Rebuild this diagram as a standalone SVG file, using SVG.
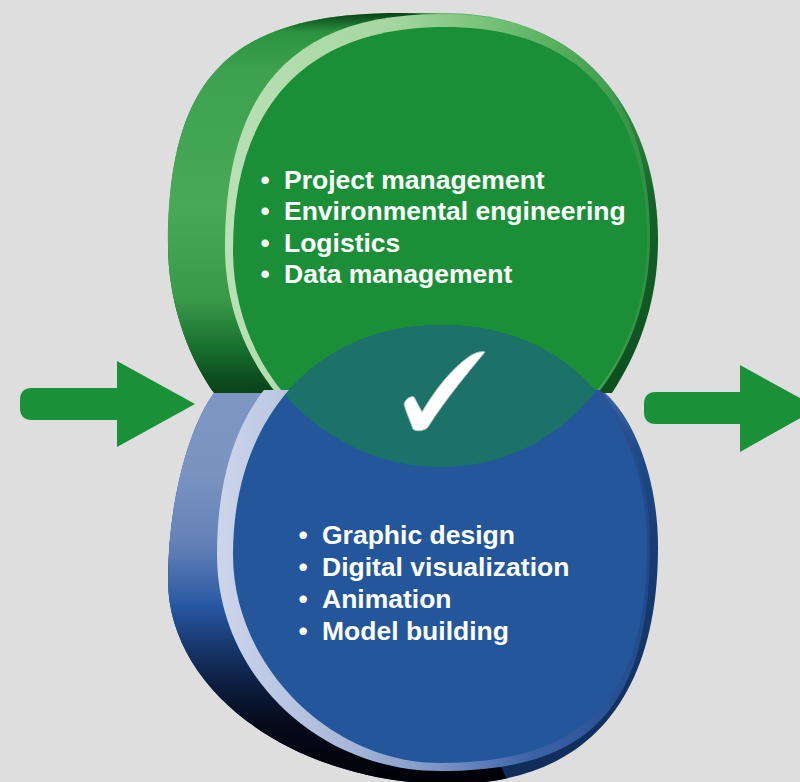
<svg xmlns="http://www.w3.org/2000/svg" width="800" height="782" viewBox="0 0 800 782">
<defs>
<style>
.lbl{font-family:"Liberation Sans",Arial,Helvetica,sans-serif;font-weight:bold;font-size:26.5px;fill:#ffffff}
.arrow{fill:#1a9038}
.gface{fill:#1a8f37}
.bface{fill:#23569b}
</style>
<linearGradient id="gRim" x1="0" y1="13" x2="0" y2="393" gradientUnits="userSpaceOnUse">
<stop offset="0" stop-color="#63ba68"/><stop offset="0.25" stop-color="#2f8c40"/><stop offset="0.5" stop-color="#146229"/><stop offset="1" stop-color="#0d4f20"/>
</linearGradient>
<linearGradient id="gBand" x1="0" y1="13" x2="0" y2="393" gradientUnits="userSpaceOnUse">
<stop offset="0" stop-color="#0b3f17"/><stop offset="0.05" stop-color="#2a9340"/><stop offset="0.15" stop-color="#3da14f"/><stop offset="0.5" stop-color="#48a957"/><stop offset="0.75" stop-color="#3a9a4a"/><stop offset="0.87" stop-color="#1b7430"/><stop offset="0.95" stop-color="#0e5222"/><stop offset="1" stop-color="#0a4218"/>
</linearGradient>
<linearGradient id="gStripe" x1="225" y1="0" x2="650" y2="0" gradientUnits="userSpaceOnUse">
<stop offset="0" stop-color="#bae0b5"/><stop offset="0.4" stop-color="#a4d6a0"/><stop offset="0.55" stop-color="#86c884"/><stop offset="0.75" stop-color="#5cb364"/><stop offset="1" stop-color="#2f8f42"/>
</linearGradient>
<linearGradient id="bRim" x1="0" y1="393" x2="0" y2="784" gradientUnits="userSpaceOnUse">
<stop offset="0" stop-color="#3a62a5"/><stop offset="0.15" stop-color="#1f4a88"/><stop offset="0.4" stop-color="#183c72"/><stop offset="1" stop-color="#102c58"/>
</linearGradient>
<linearGradient id="bBand" x1="0" y1="393" x2="0" y2="784" gradientUnits="userSpaceOnUse">
<stop offset="0" stop-color="#7e96c2"/><stop offset="0.2" stop-color="#7a93c1"/><stop offset="0.38" stop-color="#6582b8"/><stop offset="0.5" stop-color="#3a64a8"/><stop offset="0.55" stop-color="#2655a0"/><stop offset="0.65" stop-color="#17376c"/><stop offset="0.75" stop-color="#0c1d3e"/><stop offset="0.85" stop-color="#050a1a"/><stop offset="1" stop-color="#000005"/>
</linearGradient>
<linearGradient id="bStripe" x1="217" y1="0" x2="650" y2="0" gradientUnits="userSpaceOnUse">
<stop offset="0" stop-color="#cdd5ea"/><stop offset="0.3" stop-color="#a9b8da"/><stop offset="0.5" stop-color="#7f97c8"/><stop offset="0.72" stop-color="#3d64a8"/><stop offset="1" stop-color="#1f4a8a"/>
</linearGradient>
<clipPath id="clipBelow"><rect x="0" y="390" width="800" height="400"/></clipPath>
<clipPath id="clipBlueFace"><path d="M 442,325 C 565,325 647,413 647,545 C 647,698 585,763 440,763 C 330,763 233,665 233,555 C 233,417 317,325 442,325 Z"/></clipPath>
</defs>
<rect x="0" y="0" width="800" height="782" fill="#dedede"/>
<g id="connectors">
<path id="arrow-in" class="arrow" d="M 32,388 L 117,388 L 117,361 L 195,404 L 117,447 L 117,420 L 32,420 Q 20,420 20,408 L 20,400 Q 20,388 32,388 Z"/>
<path id="arrow-out" class="arrow" d="M 656,392 L 740,392 L 740,365 L 818,408 L 740,452 L 740,424 L 656,424 Q 644,424 644,412 L 644,404 Q 644,392 656,392 Z"/>
</g>
<g id="node-green">
<path fill="url(#gRim)" d="M 214,393 C 190,360 168,305 168,245 C 168,76 231,13 400,13 L 445,13 C 580,13 658,110 658,240 C 658,300 640,350 612,393 Z"/>
<path fill="url(#gBand)" d="M 214,393 C 190,360 168,305 168,245 C 168,76 231,13 400,13 L 440,14 L 300,200 L 290,393 Z"/>
<path fill="url(#gStripe)" d="M 440,14 C 576,14 650,92 650,238 C 650,368 558,471 440,471 C 320,471 225,372 225,247 C 225,89 294,14 440,14 Z"/>
<path class="gface" d="M 445,27 C 576,27 647,102 647,240 C 647,367 557,467 443,467 C 325,467 233,372 233,250 C 233,105 307,27 445,27 Z"/>
<text class="lbl" y="188.5"><tspan x="260.5">•</tspan><tspan x="284">Project management</tspan></text>
<text class="lbl" y="220"><tspan x="260.5">•</tspan><tspan x="284">Environmental engineering</tspan></text>
<text class="lbl" y="251.5"><tspan x="260.5">•</tspan><tspan x="284">Logistics</tspan></text>
<text class="lbl" y="283"><tspan x="260.5">•</tspan><tspan x="284">Data management</tspan></text>
</g>
<g id="node-blue">
<path fill="url(#bRim)" d="M 214,393 C 190,425 168,500 168,580 C 168,692 295,784 450,784 C 585,784 658,701 658,547 C 658,480 635,420 605,393 Z"/>
<path fill="url(#bBand)" d="M 214,393 C 190,425 168,500 168,580 C 168,692 295,784 450,784 C 470.25,784 489.1,782.1 506.5,778.4 L 470,700 L 300,440 L 290,393 Z"/>
<path fill="url(#bStripe)" clip-path="url(#clipBelow)" d="M 438,318 C 565,318 650,409 650,545 C 650,708 591,771 440,771 C 317,771 217,674 217,555 C 217,401 294,318 438,318 Z"/>
<path class="bface" d="M 442,325 C 565,325 647,413 647,545 C 647,698 585,763 440,763 C 330,763 233,665 233,555 C 233,417 317,325 442,325 Z"/>
<text class="lbl" y="543.5"><tspan x="298.5">•</tspan><tspan x="322">Graphic design</tspan></text>
<text class="lbl" y="575.5"><tspan x="298.5">•</tspan><tspan x="322">Digital visualization</tspan></text>
<text class="lbl" y="608"><tspan x="298.5">•</tspan><tspan x="322">Animation</tspan></text>
<text class="lbl" y="640"><tspan x="298.5">•</tspan><tspan x="322">Model building</tspan></text>
</g>
<g id="node-overlap">
<path fill="#1c7268" clip-path="url(#clipBlueFace)" d="M 445,27 C 576,27 647,102 647,240 C 647,367 557,467 443,467 C 325,467 233,372 233,250 C 233,105 307,27 445,27 Z"/>
<path fill="#ffffff" stroke="#b8c8c4" stroke-width="1" d="M 404,404 C 406,398 411,396 414,397 L 422,412 C 435,390 452,368 470,356 C 476,352 482,351 485,352 C 470,370 445,400 428,427 C 425,431 416,432 413,429 C 410,420 406,412 404,404 Z"/>
</g>
</svg>
